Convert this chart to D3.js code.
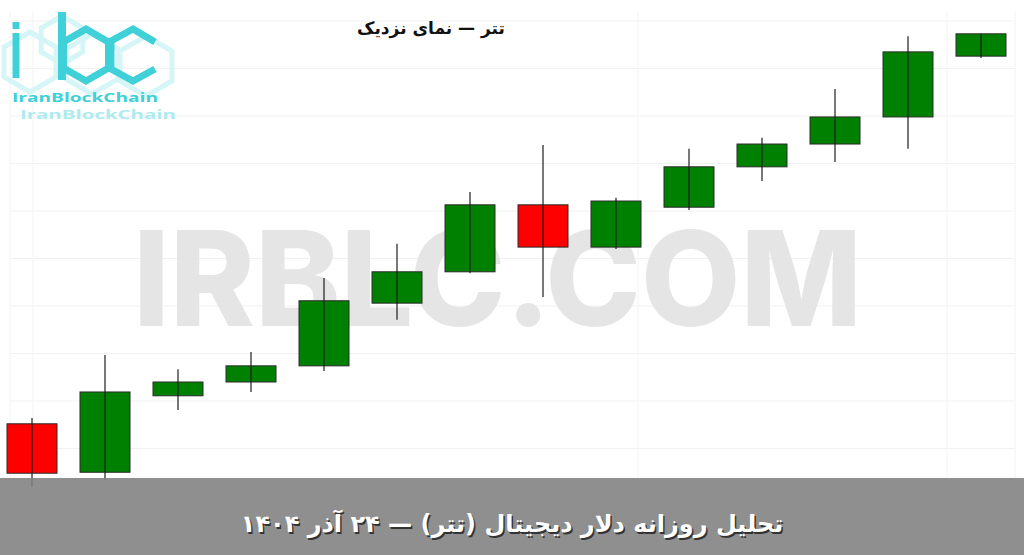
<!DOCTYPE html>
<html>
<head>
<meta charset="utf-8">
<script src="https://cdn.jsdelivr.net/npm/d3@7/dist/d3.min.js"></script>
<style>
  html, body { margin: 0; padding: 0; background: #fff; }
  svg { display: block; }
</style>
</head>
<body>
<script>
// daily candles, values in toman
const days  = [1, 2, 3, 4, 5, 6, 7, 8, 9, 10, 11, 12, 13, 14];
const opens  = [122260, 121750, 122555, 122700, 122870, 123530, 123860, 124565, 124120, 124540, 124965, 125205, 125490, 126130];
const highs  = [122320, 122985, 122835, 123015, 123795, 124155, 124700, 125195, 124640, 125155, 125270, 125785, 126340, 126365];
const lows   = [121595, 121670, 122405, 122595, 122815, 123355, 123845, 123595, 124100, 124510, 124815, 125015, 125155, 126110];
const closes = [121740, 122595, 122700, 122870, 123555, 123860, 124565, 124120, 124605, 124965, 125205, 125490, 126175, 126365];

const gridTicks = [121500, 122000, 122500, 123000, 123500, 124000, 124500, 125000, 125500, 126000, 126500];

const titleText  = "تتر — نمای نزدیک";
const bannerText = "تحلیل روزانه دلار دیجیتال (تتر) — ۲۴ آذر ۱۴۰۴";
const watermark  = "IRBLC.COM";
const logoText   = "IranBlockChain";

const width = 1024, height = 555;

const data = days.map((d, i) => ({day: d, o: opens[i], h: highs[i], l: lows[i], c: closes[i]}));

const svg = d3.select("body")
  .append("svg")
  .attr("width", width)
  .attr("height", height);

const x = d3.scaleBand()
  .domain(days)
  .range([-4.5, 1017.5])
  .paddingInner(23 / 73)
  .paddingOuter(23 / 146);

const y = d3.scaleLinear()
  .domain([121500, 126500])
  .range([496, 21]);

// faint grid
const grid = svg.append("g").attr("stroke", "#f1f1f1").attr("stroke-width", 1.2);
grid.selectAll("line.h")
  .data(gridTicks)
  .enter()
  .append("line")
  .attr("class", "h")
  .attr("x1", 10).attr("x2", 1015)
  .attr("y1", d => y(d)).attr("y2", d => y(d));
grid.selectAll("line.v")
  .data([10, 33, 638, 947, 1015])
  .enter()
  .append("line")
  .attr("class", "v")
  .attr("stroke", "#f5f5f5")
  .attr("x1", d => d).attr("x2", d => d)
  .attr("y1", 12).attr("y2", 478);

// watermark
svg.append("text")
  .attr("x", 133)
  .attr("y", 326)
  .attr("textLength", 729)
  .attr("lengthAdjust", "spacingAndGlyphs")
  .style("font-family", "Inter, 'DejaVu Sans', sans-serif")
  .style("font-weight", 800)
  .style("font-size", "132px")
  .attr("fill", "#e2e2e2")
  .attr("fill-opacity", 0.9)
  .text(watermark);

// logo
const logo = svg.append("g").attr("fill", "none").attr("stroke-linejoin", "miter");
const hex = (cx, cy, r) => {
  const pts = d3.range(6).map(k => {
    const a = Math.PI / 3 * k - Math.PI / 2;
    return [cx + r * Math.cos(a), cy + r * Math.sin(a)];
  });
  return "M" + pts.map(p => p.join(",")).join("L") + "Z";
};
[[30, 62, 30], [92, 64, 30], [146, 66, 30], [62, 40, 24]].forEach(h => {
  logo.append("path").attr("d", hex(h[0], h[1], h[2]))
    .attr("stroke", "#d6f5f7").attr("stroke-width", 5);
});
logo.append("line").attr("x1", 16).attr("x2", 16).attr("y1", 33).attr("y2", 78)
  .attr("stroke", "#3fd0d8").attr("stroke-width", 7);
logo.append("line").attr("x1", 16).attr("x2", 16).attr("y1", 22).attr("y2", 29)
  .attr("stroke", "#3fd0d8").attr("stroke-width", 7);
logo.append("line").attr("x1", 62).attr("x2", 62).attr("y1", 12).attr("y2", 80)
  .attr("stroke", "#3fd0d8").attr("stroke-width", 8);
logo.append("path").attr("d", hex(86, 55, 26))
  .attr("stroke", "#3fd0d8").attr("stroke-width", 7);
logo.append("path")
  .attr("d", "M155,42 L133,29 L111,41 L111,69 L133,81 L155,69")
  .attr("stroke", "#3fd0d8").attr("stroke-width", 7);
svg.append("text")
  .attr("x", 12).attr("y", 102)
  .attr("textLength", 146)
  .attr("lengthAdjust", "spacingAndGlyphs")
  .style("font-family", "'Open Sans', 'DejaVu Sans', sans-serif")
  .style("font-weight", 700)
  .style("font-size", "11.5px")
  .attr("fill", "#3fd0d8")
  .text(logoText);
svg.append("text")
  .attr("x", 20).attr("y", 119)
  .attr("textLength", 156)
  .attr("lengthAdjust", "spacingAndGlyphs")
  .style("font-family", "'Open Sans', 'DejaVu Sans', sans-serif")
  .style("font-weight", 700)
  .style("font-size", "12px")
  .attr("fill", "#aeebef")
  .text(logoText);

// candles
const candles = svg.append("g");
candles.selectAll("rect")
  .data(data)
  .enter()
  .append("rect")
  .attr("x", d => x(d.day))
  .attr("width", x.bandwidth())
  .attr("y", d => y(Math.max(d.o, d.c)))
  .attr("height", d => Math.max(1, Math.abs(y(d.o) - y(d.c))))
  .attr("fill", d => d.c >= d.o ? "#008000" : "#ff0000")
  .attr("stroke", "#2a2a2a")
  .attr("stroke-width", 1);
candles.selectAll("line")
  .data(data)
  .enter()
  .append("line")
  .attr("x1", d => x(d.day) + x.bandwidth() / 2)
  .attr("x2", d => x(d.day) + x.bandwidth() / 2)
  .attr("y1", d => y(d.h))
  .attr("y2", d => y(d.l))
  .attr("stroke", "#1e1e1e")
  .attr("stroke-width", 1.2);

// title
svg.append("text")
  .attr("x", 431).attr("y", 34)
  .attr("text-anchor", "middle")
  .attr("direction", "rtl")
  .style("font-family", "'DejaVu Sans', sans-serif")
  .style("font-weight", 700)
  .style("font-size", "17px")
  .attr("fill", "#111")
  .text(titleText);

// bottom banner
svg.append("rect")
  .attr("x", 0).attr("y", 478)
  .attr("width", width).attr("height", height - 478)
  .attr("fill", "#808080")
  .attr("fill-opacity", 0.88);
svg.append("text")
  .attr("x", 512).attr("y", 532)
  .attr("text-anchor", "middle")
  .attr("direction", "rtl")
  .style("font-family", "'DejaVu Sans', sans-serif")
  .style("font-weight", 700)
  .style("font-size", "24px")
  .attr("fill", "#333")
  .attr("transform", "translate(1.5,1.5)")
  .text(bannerText);
svg.append("text")
  .attr("x", 512).attr("y", 532)
  .attr("text-anchor", "middle")
  .attr("direction", "rtl")
  .style("font-family", "'DejaVu Sans', sans-serif")
  .style("font-weight", 700)
  .style("font-size", "24px")
  .attr("fill", "#ffffff")
  .text(bannerText);
</script>
</body>
</html>
